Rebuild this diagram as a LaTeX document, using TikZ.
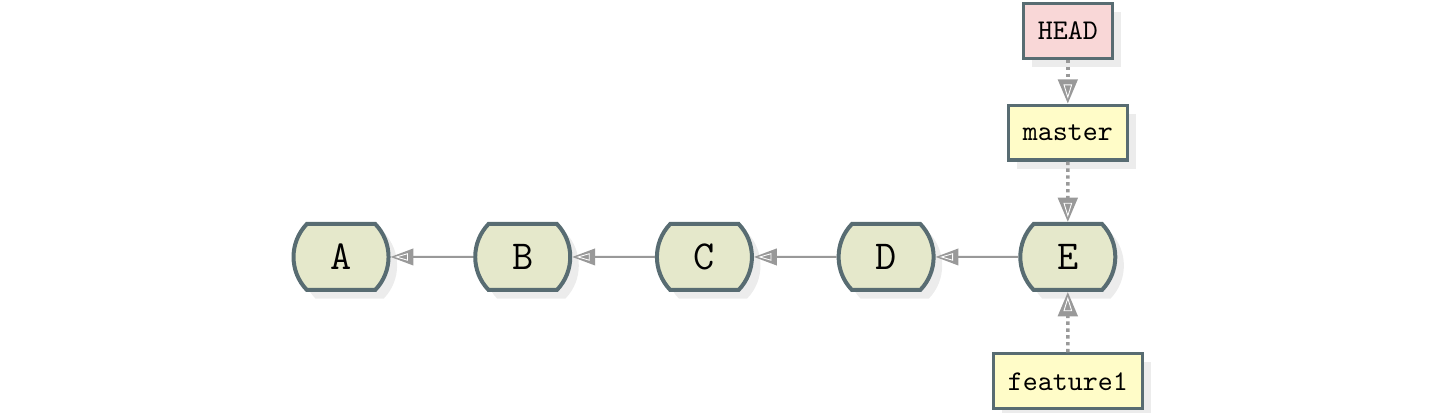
\documentclass[tikz,border=0pt]{standalone}
\usetikzlibrary{shapes.misc,shadows,arrows.meta}

\definecolor{edgegray}{RGB}{88,108,114}
\definecolor{commitfill}{RGB}{229,232,203}
\definecolor{branchfill}{RGB}{255,252,200}
\definecolor{headfill}{RGB}{249,215,215}
\definecolor{linkgray}{RGB}{153,153,153}
\definecolor{shadowgray}{RGB}{236,236,236}

\begin{document}
\begin{tikzpicture}[
    commit/.style={rounded rectangle, rounded rectangle arc length=88,
        draw=edgegray, line width=1.4pt, fill=commitfill,
        minimum width=32.9pt, minimum height=23.1pt, inner sep=2pt,
        font=\ttfamily\Large,
        drop shadow={shadow xshift=3pt, shadow yshift=-3pt, fill=shadowgray, opacity=1}},
    ref/.style={rectangle, draw=edgegray, line width=1.1pt,
        minimum height=19.2pt, inner xsep=5pt, font=\ttfamily,
        drop shadow={shadow xshift=3pt, shadow yshift=-3pt, fill=shadowgray, opacity=1}},
    parent/.style={draw=linkgray, line width=0.7pt, shorten >=1.5pt,
        -{Triangle[length=8pt, width=5.8pt, fill=linkgray, sep=-6.1pt]
          Triangle[open, length=4.6pt, width=2.6pt, line width=0.3pt, color=white]}},
    pointer/.style={draw=linkgray, line width=1.2pt, dash pattern=on 1.2pt off 1.2pt,
        shorten >=1.7pt,
        -{Triangle[length=8.5pt, width=6.8pt, fill=linkgray, sep=-6.7pt]
          Triangle[open, length=5pt, width=3pt, line width=0.3pt, color=white]}}
]

    \useasboundingbox (-4.195,-1.919) rectangle (13.42,3.161);

    % commits
    \node[commit] (A) at (0,0) {A};
    \node[commit] (B) at (2.235,0) {B};
    \node[commit] (C) at (4.47,0) {C};
    \node[commit] (D) at (6.705,0) {D};
    \node[commit] (E) at (8.94,0) {E};

    % branches and HEAD
    \node[ref, fill=headfill] (head) at (8.94,2.78) {HEAD};
    \node[ref, fill=branchfill] (master) at (8.94,1.53) {master};
    \node[ref, fill=branchfill] (feature) at (8.94,-1.53) {feature1};

    \draw[parent] (B) -- (A);
    \draw[parent] (C) -- (B);
    \draw[parent] (D) -- (C);
    \draw[parent] (E) -- (D);

    \draw[pointer] (head) -- (master);
    \draw[pointer] (master) -- (E);
    \draw[pointer] (feature) -- (E);

\end{tikzpicture}
\end{document}
